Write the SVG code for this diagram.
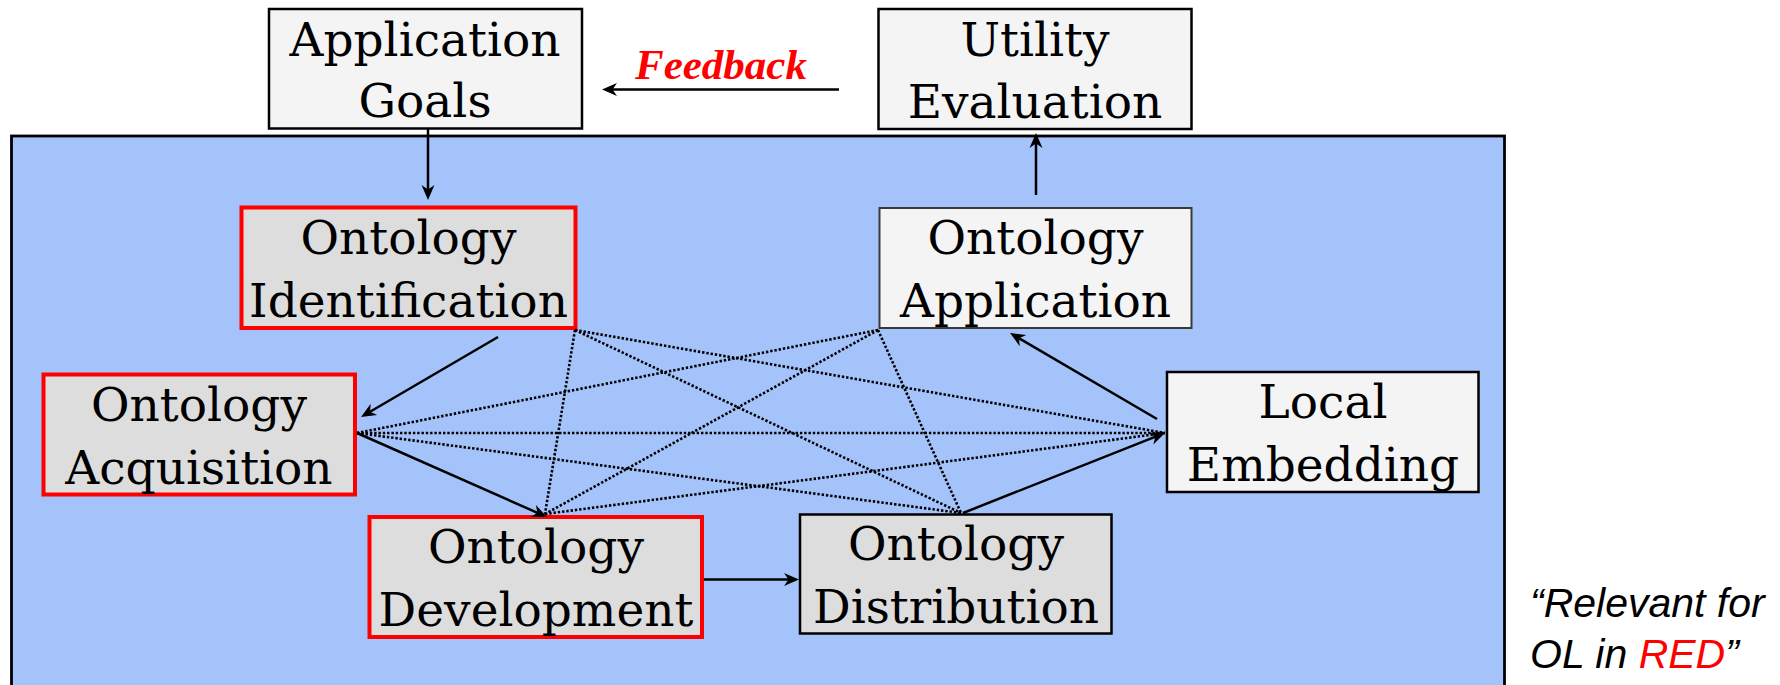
<svg xmlns="http://www.w3.org/2000/svg" width="1780" height="685" viewBox="0 0 1780 685">
  <defs>
    <style>
      .node-light { fill: #f4f4f4; stroke: #000000; stroke-width: 2.5; }
      .node-thin  { fill: #f4f4f4; stroke: #3a3a3a; stroke-width: 2; }
      .node-gray  { fill: #dddddd; stroke: #000000; stroke-width: 2.5; }
      .node-red   { fill: #dddddd; stroke: #ff0000; stroke-width: 4; }
      .label { font-family: "DejaVu Serif", "Liberation Serif", serif; font-size: 47px; fill: #000000; text-anchor: middle; }
      .flow { stroke: #000000; stroke-width: 2.5; fill: none; marker-end: url(#stealth); }
      .link { stroke: #000000; stroke-width: 2.6; stroke-dasharray: 2.4 1.9; fill: none; }
      .note { font-family: "Liberation Sans", Arial, sans-serif; font-style: italic; font-size: 41px; fill: #000000; }
    </style>
    <marker id="stealth" markerUnits="userSpaceOnUse" viewBox="-16 -8 17 16" markerWidth="17" markerHeight="16" refX="-6" refY="0" orient="auto">
      <path d="M0,0 L-15,-6.5 L-10.5,0 L-15,6.5 Z" fill="#000000"/>
    </marker>
  </defs>

  <rect width="1780" height="685" fill="#ffffff"/>

  <!-- process area -->
  <rect id="process-area" x="11.5" y="136" width="1493" height="570" fill="#a5c3fb" stroke="#000000" stroke-width="2.8"/>

  <!-- nodes -->
  <g id="application-goals">
    <rect class="node-light" x="269" y="9" width="313" height="119.5"/>
    <text class="label" x="425" y="55.5">Application</text>
    <text class="label" x="425" y="117">Goals</text>
  </g>
  <g id="utility-evaluation">
    <rect class="node-light" x="878.5" y="9" width="313" height="120"/>
    <text class="label" x="1035" y="55.5">Utility</text>
    <text class="label" x="1035" y="117.5">Evaluation</text>
  </g>
  <g id="ontology-identification">
    <rect class="node-red" x="241.5" y="207.5" width="334" height="120.5"/>
    <text class="label" x="408.5" y="253.5">Ontology</text>
    <text class="label" x="408.5" y="316.5">Identification</text>
  </g>
  <g id="ontology-application">
    <rect class="node-thin" x="879.5" y="208" width="312" height="120"/>
    <text class="label" x="1035.5" y="253.5">Ontology</text>
    <text class="label" x="1035.5" y="316.5">Application</text>
  </g>
  <g id="ontology-acquisition">
    <rect class="node-red" x="43.5" y="374.5" width="311.5" height="120"/>
    <text class="label" x="199" y="420.5">Ontology</text>
    <text class="label" x="199" y="483.5">Acquisition</text>
  </g>
  <g id="local-embedding">
    <rect class="node-light" x="1167" y="372" width="311.5" height="120"/>
    <text class="label" x="1323" y="418">Local</text>
    <text class="label" x="1323" y="481">Embedding</text>
  </g>
  <g id="ontology-development">
    <rect class="node-red" x="369.5" y="517" width="332.5" height="120"/>
    <text class="label" x="536" y="562.5">Ontology</text>
    <text class="label" x="536" y="625.5">Development</text>
  </g>
  <g id="ontology-distribution">
    <rect class="node-gray" x="800" y="514.5" width="311.5" height="119"/>
    <text class="label" x="956" y="560">Ontology</text>
    <text class="label" x="956" y="623">Distribution</text>
  </g>

  <!-- connectors -->
  <g id="connectors">
    <!-- dotted cross links between the two columns -->
    <line class="link" x1="575" y1="330" x2="1165" y2="433"/>
    <line class="link" x1="575" y1="330" x2="961" y2="513"/>
    <line class="link" x1="575" y1="330" x2="545" y2="514"/>
    <line class="link" x1="878" y1="330" x2="357" y2="433"/>
    <line class="link" x1="878" y1="330" x2="545" y2="514"/>
    <line class="link" x1="878" y1="330" x2="961" y2="513"/>
    <line class="link" x1="357" y1="433" x2="1165" y2="433"/>
    <line class="link" x1="357" y1="433" x2="961" y2="513"/>
    <line class="link" x1="545" y1="514" x2="1165" y2="433"/>

    <!-- solid flow arrows -->
    <line class="flow" x1="428" y1="129" x2="428" y2="194"/>
    <line class="flow" x1="1036" y1="195" x2="1036" y2="139"/>
    <line class="flow" x1="839" y1="89.5" x2="608" y2="89.5"/>
    <line class="flow" x1="498" y1="337" x2="366.2" y2="414"/>
    <line class="flow" x1="357" y1="433" x2="541.5" y2="514.6"/>
    <line class="flow" x1="704" y1="579.5" x2="793" y2="579.5"/>
    <line class="flow" x1="963" y1="513" x2="1159.4" y2="435.2"/>
    <line class="flow" x1="1157" y1="419" x2="1015.2" y2="336"/>
  </g>

  <!-- feedback label -->
  <text id="feedback-label" x="635" y="79" font-family="'Liberation Serif', 'Times New Roman', serif" font-size="43" font-weight="bold" font-style="italic" fill="#ff0000">Feedback</text>

  <!-- side note -->
  <g id="side-note">
    <text class="note" x="1530" y="617">“Relevant for</text>
    <text class="note" x="1530" y="668">OL in <tspan fill="#ff0000">RED</tspan>”</text>
  </g>
</svg>
